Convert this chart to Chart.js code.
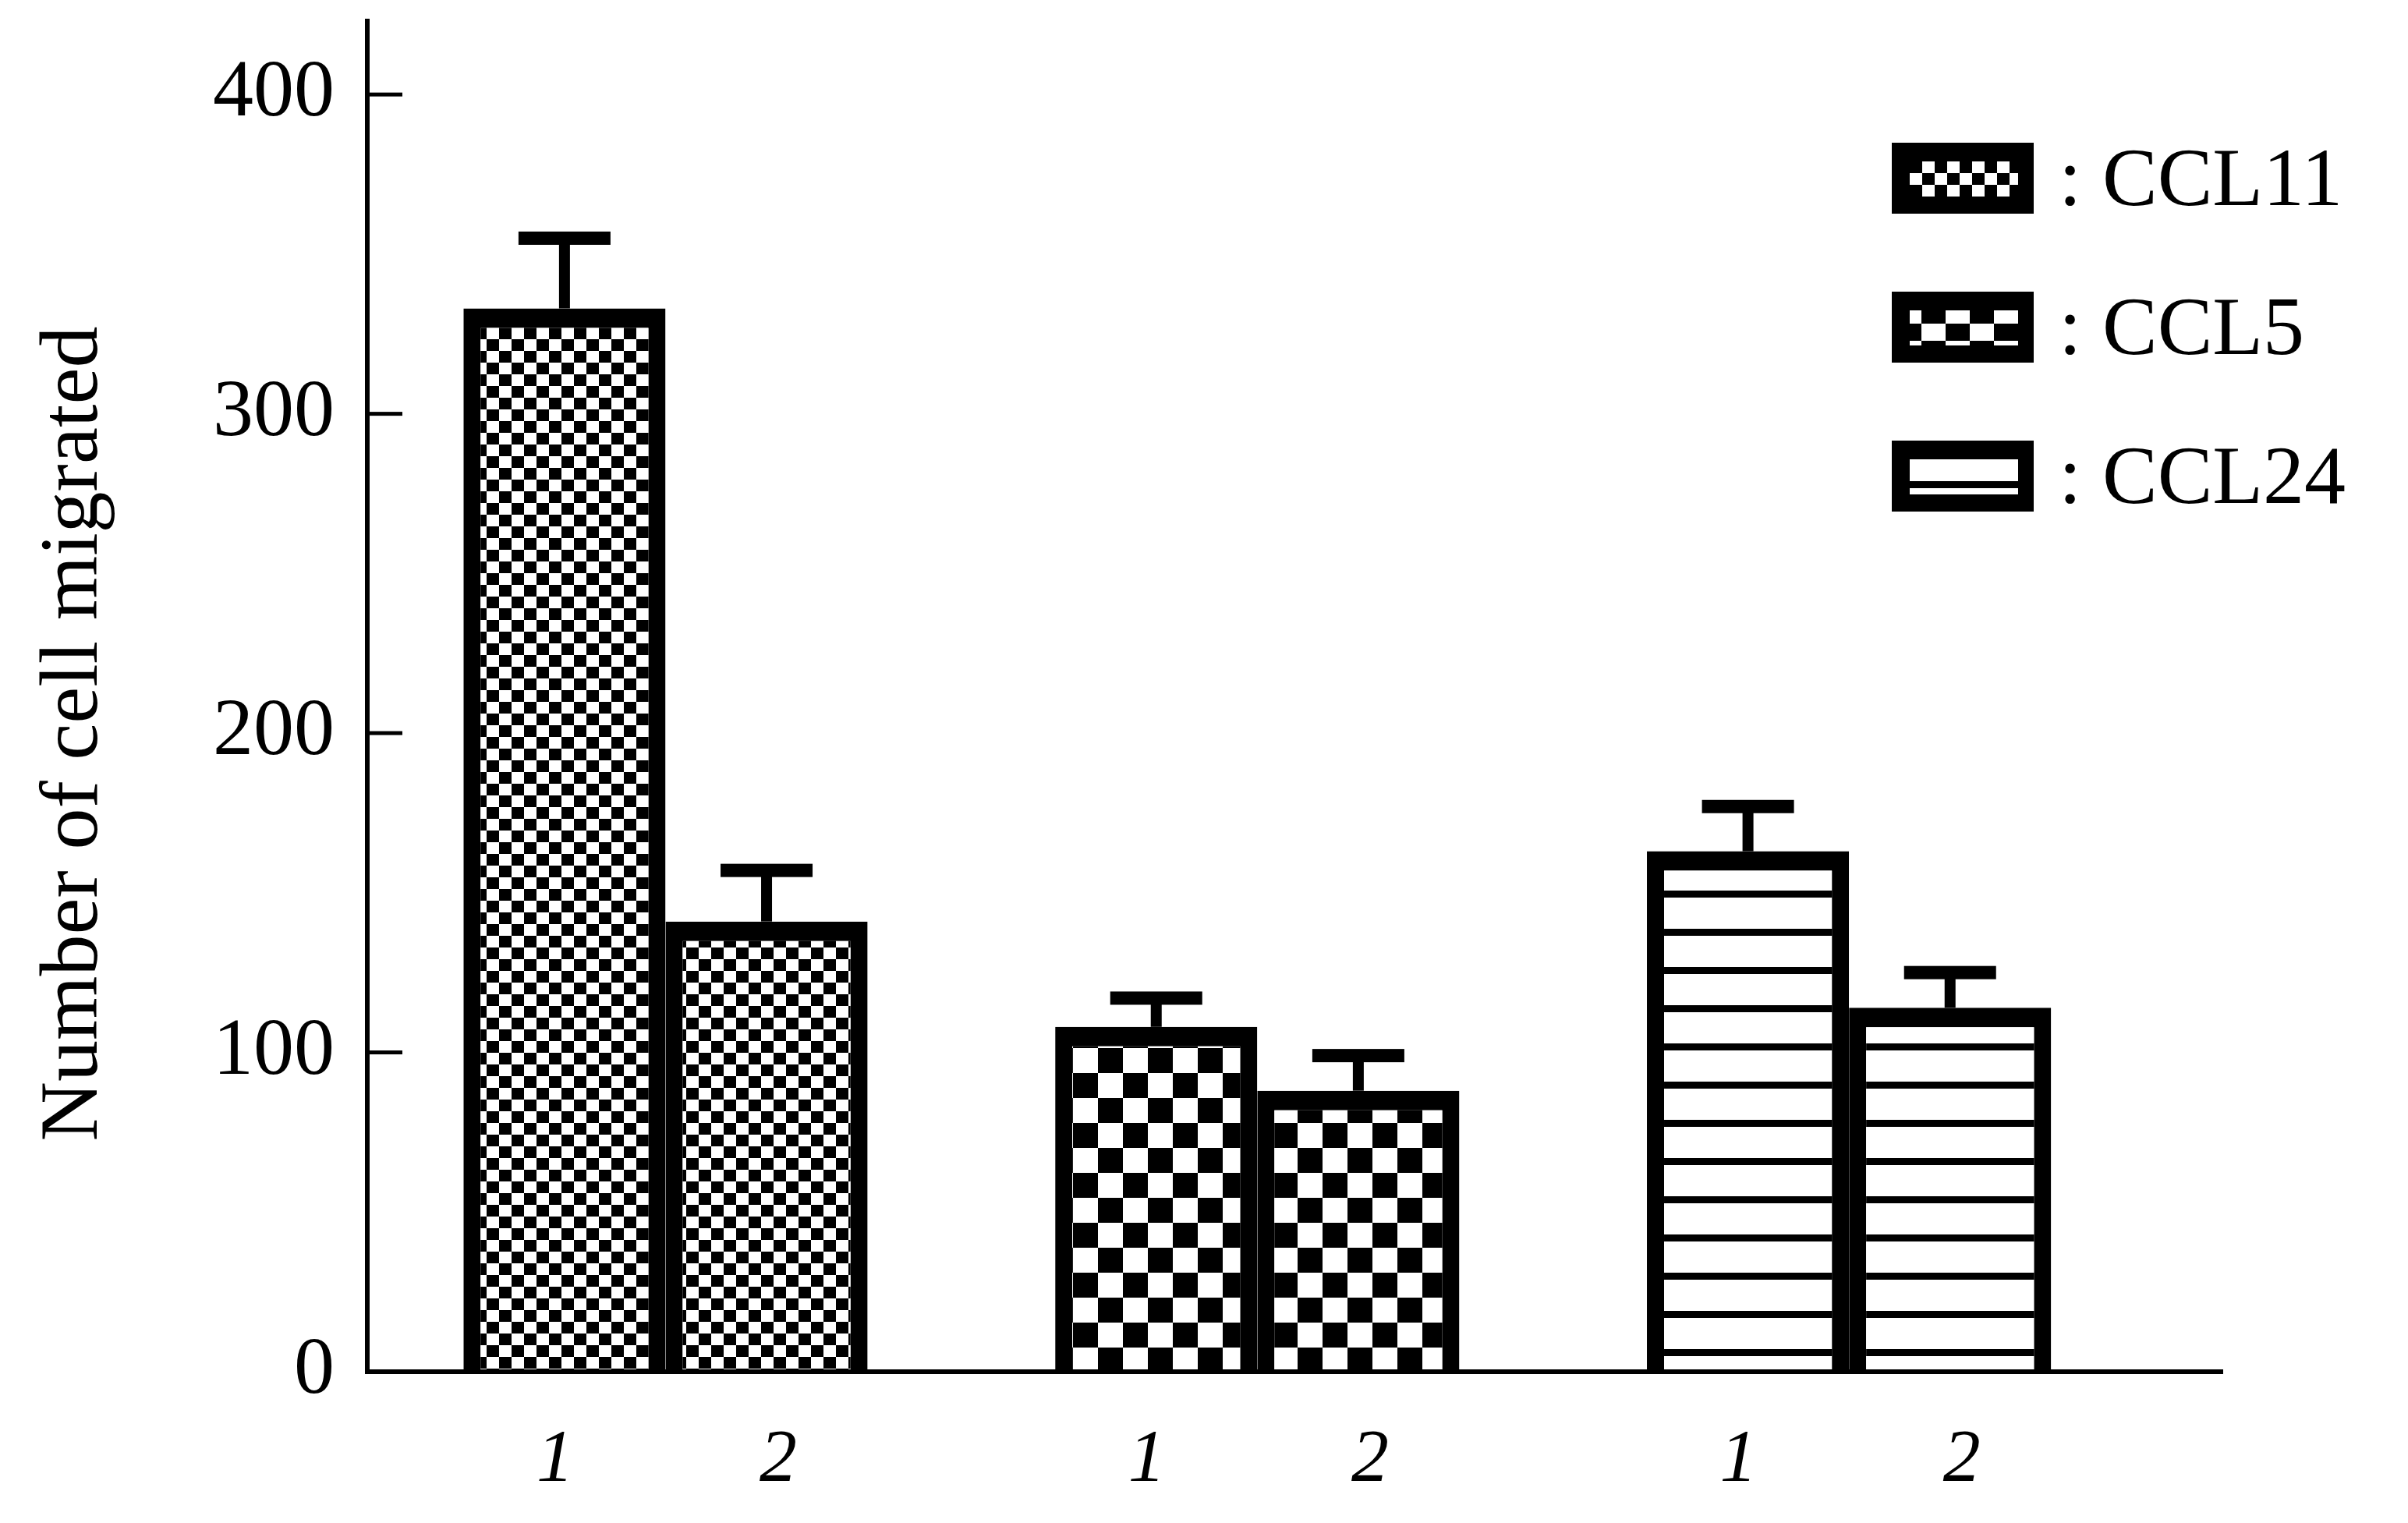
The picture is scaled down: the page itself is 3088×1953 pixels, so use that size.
<!DOCTYPE html>
<html>
<head>
<meta charset="utf-8">
<script src="https://cdn.jsdelivr.net/npm/chart.js@4.4.1/dist/chart.umd.min.js"></script>
<style>
html, body { margin: 0; padding: 0; background: #fff; }
canvas { display: block; }
</style>
</head>
<body>
<canvas id="migrationChart" width="3088" height="1953"></canvas>
<script>
// Data
const groupNames = ["CCL11", "CCL5", "CCL24"];
const groupPositions = [1, 2, 3];
const barLabels = ["1", "2"];
const values1 = [333, 108, 163];
const values2 = [141, 88, 114];
const errTop1 = [355, 117, 177];
const errTop2 = [157, 99, 125];
const yTicks = [0, 100, 200, 300, 400];
const yTitle = "Number of cell migrated";

const chartCanvas = document.getElementById("migrationChart");
const serif = '"Liberation Serif", "Times New Roman", serif';

// Fill patterns
function makeChecker(cw, ch) {
    const c = document.createElement("canvas");
    c.width = cw * 2;
    c.height = ch * 2;
    const g = c.getContext("2d");
    g.fillStyle = "#fff";
    g.fillRect(0, 0, c.width, c.height);
    g.fillStyle = "#000";
    g.fillRect(0, 0, cw, ch);
    g.fillRect(cw, ch, cw, ch);
    return g.createPattern(c, "repeat");
}

function makeStripes(period, from, thick) {
    const c = document.createElement("canvas");
    c.width = 8;
    c.height = period;
    const g = c.getContext("2d");
    g.fillStyle = "#fff";
    g.fillRect(0, 0, 8, period);
    g.fillStyle = "#000";
    g.fillRect(0, from, 8, thick);
    return g.createPattern(c, "repeat");
}

const barPatterns = [makeChecker(16, 15), makeChecker(32, 32), makeStripes(49, 15, 9)];

function barDataset(i, values, errTop) {
    return {
        label: barLabels[i],
        data: groupPositions.map((x, j) => ({ x: x, y: values[j] })),
        errTop: errTop,
        backgroundColor: barPatterns,
        borderColor: "#000",
        borderWidth: { top: 25, left: 22, right: 22, bottom: 0 },
        borderSkipped: "start",
        categoryPercentage: 0.683,
        barPercentage: 1.0
    };
}

// Error bars above each bar
const errorBarPlugin = {
    id: "errorBars",
    afterDatasetsDraw(chart) {
        const ctx = chart.ctx;
        const yScale = chart.scales.y;
        ctx.save();
        ctx.fillStyle = "#000";
        chart.data.datasets.forEach((ds, i) => {
            chart.getDatasetMeta(i).data.forEach((bar, j) => {
                const top = yScale.getPixelForValue(ds.errTop[j]);
                ctx.fillRect(bar.x - 7, top, 14, bar.y - top);
                ctx.fillRect(bar.x - 59, top - 8.5, 118, 17);
            });
        });
        ctx.restore();
    }
};

// Inward y ticks, bar numbers, axis title, legend
const decorPlugin = {
    id: "decor",
    afterDraw(chart) {
        const ctx = chart.ctx;
        const yScale = chart.scales.y;
        const area = chart.chartArea;
        ctx.save();
        ctx.fillStyle = "#000";

        yScale.ticks.forEach(t => {
            const y = yScale.getPixelForValue(t.value);
            ctx.fillRect(area.left, y - 2.5, 45, 5);
        });

        // numbers under the bars sit a little off centre in the original
        const labelShift = [-12, 15];
        ctx.font = "italic 96px " + serif;
        ctx.textAlign = "center";
        ctx.textBaseline = "alphabetic";
        chart.data.datasets.forEach((ds, i) => {
            chart.getDatasetMeta(i).data.forEach(bar => {
                ctx.fillText(barLabels[i], bar.x + labelShift[i], area.bottom + 140);
            });
        });

        ctx.save();
        ctx.translate(124, 941);
        ctx.rotate(-Math.PI / 2);
        ctx.font = "106px " + serif;
        ctx.fillText(yTitle, 0, 0);
        ctx.restore();

        // legend
        const legendPatterns = [makeChecker(16, 15), makeChecker(31, 22), makeStripes(49, 15, 9)];
        const shifts = [[2449, 207], [2402, 393], [2449, 602]];
        ctx.font = "106px " + serif;
        ctx.textAlign = "left";
        groupNames.forEach((name, i) => {
            const top = 183 + i * 191;
            ctx.fillStyle = "#000";
            ctx.fillRect(2426, top, 182, 91);
            const p = legendPatterns[i];
            p.setTransform(new DOMMatrix([1, 0, 0, 1, shifts[i][0], shifts[i][1]]));
            ctx.fillStyle = p;
            ctx.fillRect(2449, top + 24, 139, 45);
            ctx.fillStyle = "#000";
            ctx.fillText(": " + name, 2640, top + 80);
        });
        ctx.restore();
    }
};

new Chart(chartCanvas, {
    type: "bar",
    data: {
        datasets: [
            barDataset(0, values1, errTop1),
            barDataset(1, values2, errTop2)
        ]
    },
    options: {
        responsive: false,
        animation: false,
        devicePixelRatio: 1,
        layout: { padding: { top: 27, right: 238, left: 0, bottom: 0 } },
        plugins: {
            legend: { display: false },
            tooltip: { enabled: false },
            colors: { enabled: false }
        },
        scales: {
            x: {
                type: "linear",
                offset: false,
                min: 0.496,
                max: 3.631,
                afterBuildTicks: scale => { scale.ticks = groupPositions.map(v => ({ value: v })); },
                ticks: { display: false },
                grid: { display: false, drawTicks: false, offset: false },
                border: { display: true, color: "#000", width: 6, z: 1 },
                afterFit: scale => {
                    scale.height = 194;
                    scale.paddingLeft = 0;
                    scale.paddingRight = 0;
                }
            },
            y: {
                min: 0,
                max: 423,
                afterBuildTicks: scale => { scale.ticks = yTicks.map(v => ({ value: v })); },
                ticks: {
                    color: "#000",
                    padding: 42,
                    font: { family: serif, size: 104 }
                },
                grid: { display: false, drawTicks: false },
                border: { display: true, color: "#000", width: 6, z: 1 },
                afterFit: scale => {
                    scale.width = 471;
                    scale.paddingTop = 0;
                    scale.paddingBottom = 0;
                }
            }
        }
    },
    plugins: [errorBarPlugin, decorPlugin]
});
</script>
</body>
</html>
